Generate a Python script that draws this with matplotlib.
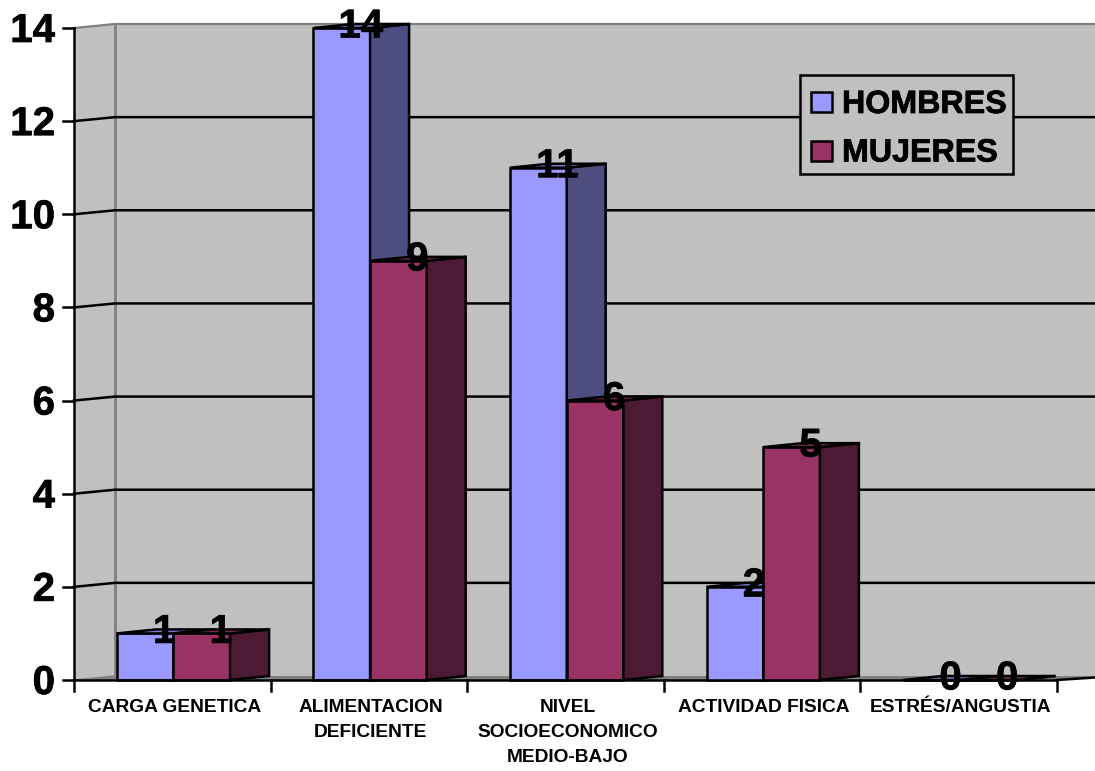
import matplotlib
matplotlib.use("Agg")
import matplotlib.pyplot as plt
import matplotlib.patheffects as pe
from matplotlib.patches import Polygon, Rectangle

categories = ["CARGA GENETICA", "ALIMENTACION\nDEFICIENTE", "NIVEL\nSOCIOECONOMICO\nMEDIO-BAJO",
              "ACTIVIDAD FISICA", "ESTRÉS/ANGUSTIA"]
hombres = [1, 14, 11, 2, 0]
mujeres = [1, 9, 6, 5, 0]
y_ticks = [0, 2, 4, 6, 8, 10, 12, 14]

W, H = 1095, 771
X0, X1, Y0, Y14 = 74, 1057, 680, 28
plt.rcParams["font.family"] = ["Liberation Sans", "DejaVu Sans"]

fig = plt.figure(figsize=(W / 100, H / 100), dpi=100, facecolor="white")
ax = fig.add_axes([X0 / W, 1 - Y0 / H, (X1 - X0) / W, (Y0 - Y14) / H])
ax.set_xlim(0, len(categories))
ax.set_ylim(0, 14)
for s in ax.spines.values():
    s.set_visible(False)
ax.patch.set_visible(False)
ax.set_xticks([])
ax.set_yticks([])

# pixel sizes expressed in data units
PX = 5 / (X1 - X0)
PY = 14 / (Y0 - Y14)

# depth of the oblique projection
DX = 41 * PX
DY = 4 * PY
BAR_DX = 39 * PX
OFFSET = 0.218
BAR_W = 0.288
LW = 1.8

HOMBRE = ("#9999FF", "#4D4D80", "#7A7ACC")
MUJER = ("#993366", "#4D1A33", "#7A2952")

right = len(categories) + DX + 0.1
heavy = [pe.withStroke(linewidth=0.5, foreground="black")]

# walls and floor
ax.add_patch(Polygon([(0, 0), (DX, DY), (DX, 14 + DY), (0, 14)], closed=True, fc="#C0C0C0", ec="none", clip_on=False, zorder=1))
ax.add_patch(Polygon([(DX, DY), (right, DY), (right, 14 + DY), (DX, 14 + DY)], closed=True, fc="#C0C0C0", ec="none", clip_on=False, zorder=1))
ax.add_patch(Polygon([(0, 0), (DX, DY), (right, DY), (5, 0)], closed=True, fc="#808080", ec="none", clip_on=False, zorder=1))
ax.plot([DX, DX], [DY, 14 + DY], color="#808080", lw=2, clip_on=False, zorder=2)
ax.plot([0, DX, right], [14, 14 + DY, 14 + DY], color="#808080", lw=1.6, clip_on=False, zorder=2)

# gridlines running along the side wall and the back wall
for v in y_ticks[1:-1]:
    ax.plot([0, DX, right], [v, v + DY, v + DY], color="black", lw=LW, clip_on=False, zorder=3)
ax.plot([0, DX], [0, DY], color="#808080", lw=1, clip_on=False, zorder=3)

# axis lines and tick marks
ax.plot([0, 0], [0, 14], color="black", lw=LW, clip_on=False, zorder=8)
ax.plot([0, 5], [0, 0], color="black", lw=LW, clip_on=False, zorder=8)
ax.plot([5, right], [0, DY], color="black", lw=LW, clip_on=False, zorder=3)
for v in y_ticks:
    ax.plot([-11 * PX, 0], [v, v], color="black", lw=LW, clip_on=False, zorder=8)
    ax.text(-19 * PX, v - 3 * PY, str(v), ha="right", va="center", fontsize=29, fontweight="bold",
            clip_on=False, zorder=9, path_effects=heavy)
for i in range(len(categories) + 1):
    ax.plot([i, i], [0, -11 * PY], color="black", lw=LW, clip_on=False, zorder=8)


def draw_bar(left, value, colours, z):
    """Front, side and top faces of one bar plus its value label."""
    front, side, top = colours
    r = left + BAR_W
    ax.bar(left, value, BAR_W, align="edge", color=front, edgecolor="black", lw=LW, zorder=z, clip_on=False)
    ax.add_patch(Polygon([(r, 0), (r + BAR_DX, DY), (r + BAR_DX, value + DY), (r, value)], closed=True,
                         fc=side, ec="black", lw=LW, clip_on=False, zorder=z))
    ax.add_patch(Polygon([(left, value), (left + BAR_DX, value + DY), (r + BAR_DX, value + DY), (r, value)], closed=True,
                         fc=top, ec="black", lw=LW, clip_on=False, zorder=z))
    ax.text(left + BAR_W / 2 + 19 * PX, value + 1.5 * PY, str(value), ha="center", va="center", fontsize=29,
            fontweight="bold", clip_on=False, zorder=20, path_effects=heavy)


for i, (h, m) in enumerate(zip(hombres, mujeres)):
    draw_bar(i + OFFSET, h, HOMBRE, 5 + i)
    draw_bar(i + OFFSET + BAR_W, m, MUJER, 5.5 + i)
    ax.text(i + 0.5 + 2 * PX, -19 * PY, categories[i], ha="center", va="top", fontsize=13.8, fontweight="bold",
            linespacing=1.6, clip_on=False)

# legend box
fig.add_artist(Rectangle((800 / W, 1 - 174 / H), 213 / W, 99 / H, transform=fig.transFigure,
                         fc="#C0C0C0", ec="black", lw=LW, zorder=30))
for name, colour, cy in (("HOMBRES", HOMBRE[0], 102), ("MUJERES", MUJER[0], 150.5)):
    fig.add_artist(Rectangle((811 / W, 1 - (cy + 10) / H), 20.5 / W, 20 / H, transform=fig.transFigure,
                             fc=colour, ec="black", lw=LW, zorder=31))
    fig.text(842 / W, 1 - (cy + 3) / H, name, ha="left", va="center", fontsize=23.2, fontweight="bold", zorder=31,
             path_effects=heavy)

fig.savefig("out.png", dpi=100)
